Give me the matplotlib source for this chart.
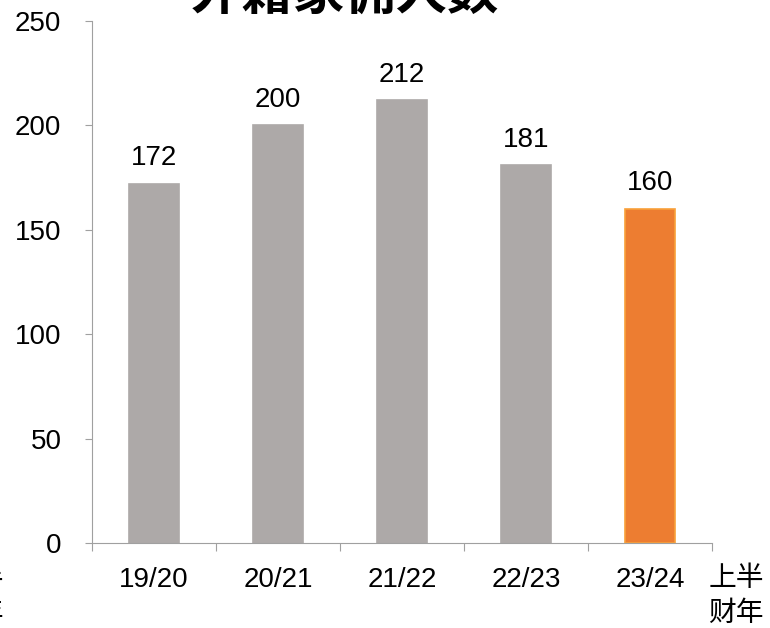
import numpy as np
import matplotlib.pyplot as plt

plt.rcParams['font.family'] = ['Liberation Sans', 'Noto Sans CJK SC', 'DejaVu Sans']

# dane
years = ["19/20", "20/21", "21/22", "22/23", "23/24"]
counts = [172, 200, 212, 181, 160]
bar_colors = ["#ADA9A8", "#ADA9A8", "#ADA9A8", "#ADA9A8", "#ED7D31"]
edge_colors = ["#ADA9A8", "#ADA9A8", "#ADA9A8", "#ADA9A8", "#F9A13A"]
title = "外籍家佣人数"
unit_label = ["上半", "财年"]

cjk = ["Noto Sans CJK SC", "DejaVu Sans"]
axis_gray = "#A0A0A0"

fig = plt.figure(figsize=(7.7, 6.28), dpi=100)
ax = fig.add_axes([92/770, 85/628, 620/770, 522/628])

x = np.arange(len(years))
ax.bar(x, counts, width=0.4, color=bar_colors, edgecolor=edge_colors, linewidth=1.2)

# etykiety wartosci nad slupkami
for xi, v in zip(x, counts):
    ax.annotate(str(v), (xi, v), xytext=(0, 9), textcoords="offset points",
                ha="center", va="bottom", fontsize=20)

ax.set_xlim(-0.5, len(years) - 0.5)
ax.set_ylim(0, 250)
ax.set_yticks(np.arange(0, 251, 50))
ax.tick_params(axis="y", labelsize=20, direction="out", length=5, color=axis_gray, pad=17)

# kreski osi x na granicach kategorii, podpisy na srodkach
ax.set_xticks(np.arange(-0.5, len(years), 1.0))
ax.set_xticklabels([])
ax.set_xticks(x, minor=True)
ax.set_xticklabels(years, minor=True, fontsize=20)
ax.tick_params(axis="x", which="major", direction="out", length=6, color=axis_gray)
ax.tick_params(axis="x", which="minor", length=0, pad=17)

for s in ["top", "right"]:
    ax.spines[s].set_visible(False)
for s in ["left", "bottom"]:
    ax.spines[s].set_color(axis_gray)

# tytul - w oryginale uciety u gory
fig.text(345/770, 1 - 9/628, title, ha="center", va="baseline",
         fontsize=37, fontweight="bold", family=cjk)

# jednostka po prawej
fig.text(736/770, 1 - 578/628, unit_label[0], ha="center", va="center", fontsize=20, family=cjk)
fig.text(736/770, 1 - 613/628, unit_label[1], ha="center", va="center", fontsize=20, family=cjk)

# resztki podpisu uciete z lewej strony
fig.text(4/770, 1 - 578/628, unit_label[0], ha="right", va="center", fontsize=20, family=cjk)
fig.text(4/770, 1 - 613/628, unit_label[1], ha="right", va="center", fontsize=20, family=cjk)

fig.savefig("out.png", dpi=100)
